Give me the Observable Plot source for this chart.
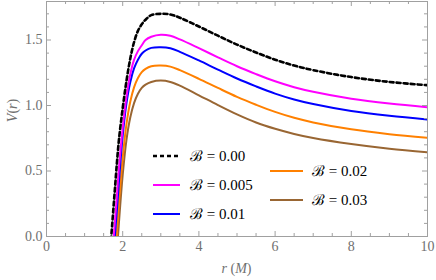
<!DOCTYPE html>
<html>
<head>
<meta charset="utf-8">
<script src="https://cdn.jsdelivr.net/npm/d3@7"></script>
<script src="https://cdn.jsdelivr.net/npm/@observablehq/plot@0.6"></script>
<style>
  html, body { margin: 0; padding: 0; background: #fff; }
  #chart { position: relative; width: 436px; height: 280px; }
</style>
</head>
<body>
<div id="chart"></div>
<script>
// radial coordinate r (M)
const r = [1.65, 1.7, 1.75, 1.8, 1.85, 1.9, 2.0, 2.1, 2.2, 2.3, 2.4, 2.5, 2.6, 2.75, 3.0, 3.25, 3.5, 4.0, 4.5, 5.0, 5.5, 6.0, 6.5, 7.0, 8.0, 9.0, 10.0];
// V(r) for each B
const vB000  = [-0.19, 0.0, 0.19, 0.38, 0.57, 0.735, 0.98, 1.19, 1.36, 1.485, 1.57, 1.62, 1.655, 1.69, 1.70, 1.695, 1.67, 1.603, 1.533, 1.465, 1.405, 1.35, 1.305, 1.27, 1.217, 1.18, 1.155];
const vB0005 = [-0.45, -0.25, -0.05, 0.13, 0.32, 0.52, 0.83, 1.07, 1.24, 1.35, 1.415, 1.46, 1.50, 1.525, 1.54, 1.532, 1.505, 1.438, 1.368, 1.30, 1.24, 1.185, 1.14, 1.105, 1.052, 1.015, 0.987];
const vB001  = [-0.55, -0.36, -0.17, 0.02, 0.21, 0.41, 0.77, 1.02, 1.18, 1.285, 1.35, 1.395, 1.42, 1.44, 1.445, 1.437, 1.41, 1.344, 1.274, 1.206, 1.146, 1.091, 1.046, 1.011, 0.958, 0.921, 0.893];
const vB002  = [-0.75, -0.55, -0.35, -0.15, 0.04, 0.25, 0.60, 0.86, 1.03, 1.14, 1.21, 1.255, 1.28, 1.30, 1.305, 1.297, 1.27, 1.204, 1.134, 1.066, 1.006, 0.951, 0.906, 0.871, 0.818, 0.781, 0.753];
const vB003  = [-0.95, -0.75, -0.54, -0.33, -0.11, 0.10, 0.47, 0.74, 0.91, 1.02, 1.09, 1.135, 1.16, 1.18, 1.19, 1.18, 1.152, 1.078, 1.003, 0.932, 0.87, 0.822, 0.783, 0.752, 0.706, 0.67, 0.643];

const labels = ["0.00", "0.005", "0.01", "0.02", "0.03"];
const colors = ["#000000", "#ff00ff", "#0000ff", "#ff8000", "#996633"];
const dashes = ["4,3", null, null, null, null];
const values = [vB000, vB0005, vB001, vB002, vB003];

const xMajor = [0, 2, 4, 6, 8, 10];
const xMinor = d3.range(0, 10.01, 0.5).filter(v => Math.abs(v % 2) > 1e-9);
const yMajor = [0, 0.5, 1.0, 1.5];
const yMinor = d3.range(0, 1.79, 0.1).map(v => +v.toFixed(1)).filter(v => Math.abs((v * 10) % 5) > 1e-9);

const W = 436, H = 280, mL = 46, mR = 9, mT = 1, mB = 44;
const iw = W - mL - mR, ih = H - mT - mB;
const frameColor = "#a0a0a0";
const labelColor = "#707070";
const font = "Liberation Serif";

const series = values.map((vals, i) => r.map((x, j) => ({x, y: vals[j], k: i})));

const lineMarks = series.map((s, i) => Plot.line(s, {
  x: "x", y: "y", stroke: colors[i], strokeWidth: i === 0 ? 2.6 : 2,
  strokeDasharray: dashes[i] || undefined, curve: "catmull-rom", clip: true
}));

const tickLen = 5, minorLen = 3;
const plot = Plot.plot({
  width: W, height: H,
  marginLeft: mL, marginRight: mR, marginTop: mT, marginBottom: mB,
  style: {background: "#fff", color: labelColor},
  x: {domain: [0, 10]},
  y: {domain: [0, 1.794]},
  marks: [
    ...lineMarks.slice().reverse(),
    Plot.frame({stroke: frameColor}),
    Plot.tickX(xMajor, {x: d => d, insetTop: ih - tickLen, stroke: frameColor}),
    Plot.tickX(xMajor, {x: d => d, insetBottom: ih - tickLen, stroke: frameColor}),
    Plot.tickX(xMinor, {x: d => d, insetTop: ih - minorLen, stroke: frameColor}),
    Plot.tickX(xMinor, {x: d => d, insetBottom: ih - minorLen, stroke: frameColor}),
    Plot.tickY(yMajor, {y: d => d, insetRight: iw - tickLen, stroke: frameColor}),
    Plot.tickY(yMajor, {y: d => d, insetLeft: iw - tickLen, stroke: frameColor}),
    Plot.tickY(yMinor, {y: d => d, insetRight: iw - minorLen, stroke: frameColor}),
    Plot.tickY(yMinor, {y: d => d, insetLeft: iw - minorLen, stroke: frameColor}),
    Plot.axisX(xMajor, {tickSize: 0, tickPadding: 5, label: null, fill: labelColor, fontSize: 14}),
    Plot.axisY(yMajor, {tickSize: 0, tickPadding: 4, label: null, tickFormat: d3.format(".1f"), fill: labelColor, fontSize: 14})
  ]
});

const container = d3.select("#chart");
container.node().appendChild(plot);

// plain overlay svg (same coordinate system) that carries all the text
const overlay = container.append("svg")
  .attr("width", W).attr("height", H)
  .style("position", "absolute").style("left", "0px").style("top", "0px")
  .attr("font-family", font).attr("font-size", 14).attr("text-anchor", "middle")
  .attr("fill", labelColor);

// move Plot's axis tick labels into the overlay
d3.select(plot).selectAll("g").filter(function () {
  return this.querySelector("text") !== null && this.parentNode === plot;
}).each(function () {
  overlay.node().appendChild(this);
});
overlay.selectAll("g, text").attr("font-variant", null);

const xs = plot.scale("x"), ys = plot.scale("y");
const cx = (xs.apply(0) + xs.apply(10)) / 2;
const cy = (ys.apply(0) + ys.apply(1.794)) / 2;

// axis titles
const xt = overlay.append("text").attr("x", cx).attr("y", 273);
xt.append("tspan").attr("font-style", "italic").text("r");
xt.append("tspan").text(" (");
xt.append("tspan").attr("font-style", "italic").text("M");
xt.append("tspan").text(")");

const yt = overlay.append("text").attr("transform", `translate(17,${cy - 8}) rotate(-90)`);
yt.append("tspan").attr("font-style", "italic").text("V");
yt.append("tspan").text("(");
yt.append("tspan").attr("font-style", "italic").text("r");
yt.append("tspan").text(")");

// legend
const legendPos = [
  {x1: 153, x2: 180, tx: 190, y: 156},
  {x1: 153, x2: 180, tx: 190, y: 185},
  {x1: 153, x2: 180, tx: 190, y: 214},
  {x1: 270, x2: 303, tx: 312, y: 171},
  {x1: 270, x2: 303, tx: 312, y: 200}
];
const lg = overlay.append("g");
labels.forEach((lab, i) => {
  const p = legendPos[i];
  lg.append("line").attr("x1", p.x1).attr("x2", p.x2).attr("y1", p.y).attr("y2", p.y)
    .attr("stroke", colors[i]).attr("stroke-width", i === 0 ? 2.6 : 2)
    .attr("stroke-dasharray", dashes[i]);
  lg.append("text").attr("x", p.tx).attr("y", p.y).attr("dy", "0.35em")
    .attr("text-anchor", "start").attr("font-size", 15).attr("fill", "#000")
    .text("ℬ = " + lab);
});
</script>
</body>
</html>
